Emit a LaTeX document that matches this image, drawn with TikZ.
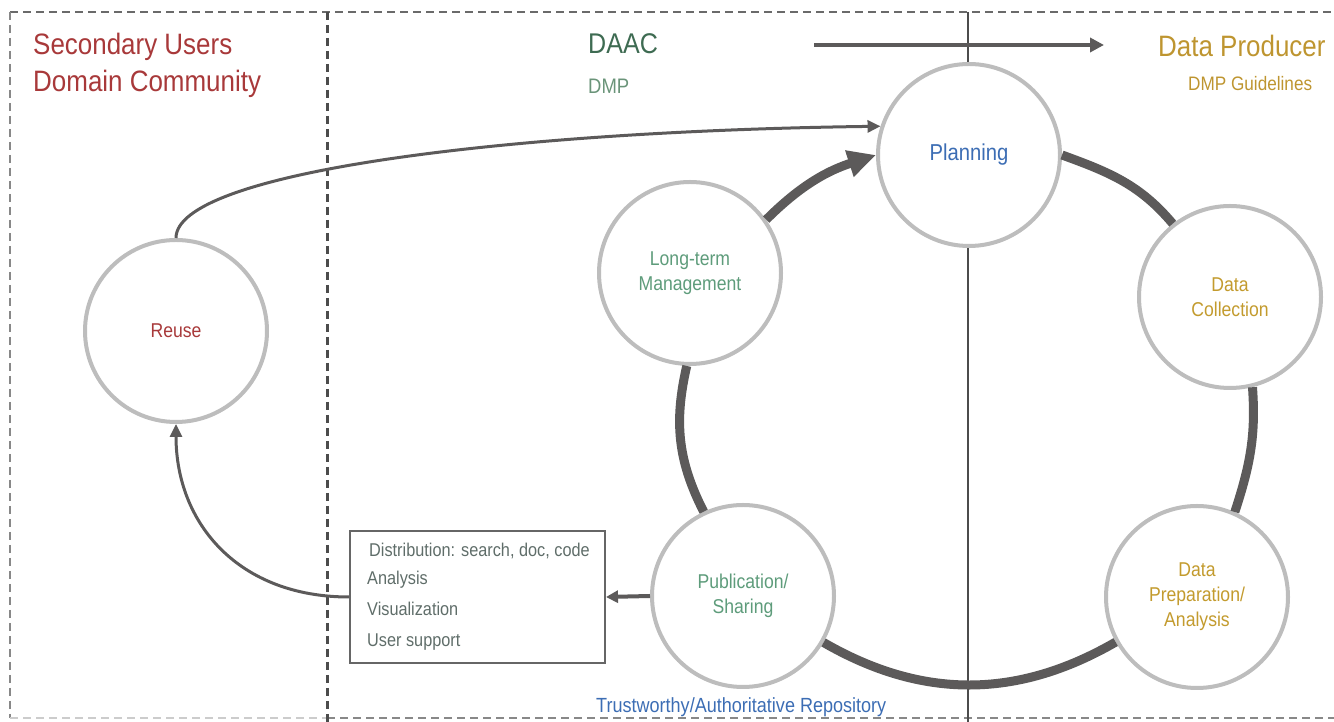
\documentclass[tikz,border=0pt]{standalone}
\usepackage{fontspec}
\setmainfont{Liberation Sans}[FakeStretch=0.88]
\usetikzlibrary{arrows.meta}
\definecolor{redc}{HTML}{A8393A}
\definecolor{daacg}{HTML}{3E6B52}
\definecolor{dmpg}{HTML}{6A9479}
\definecolor{nodeg}{HTML}{5E9C7B}
\definecolor{goldc}{HTML}{BE9530}
\definecolor{goldn}{HTML}{C39B2E}
\definecolor{bluec}{HTML}{3C6DB4}
\definecolor{boxt}{HTML}{5F6D69}
\definecolor{ring}{HTML}{BDBDBD}
\definecolor{arcc}{HTML}{5C5A5A}
\definecolor{dashc}{HTML}{6A6A6A}
\begin{document}
\begin{tikzpicture}[x=1pt,y=1pt,
  stage/.style={circle,draw=ring,line width=4pt,fill=white,minimum size=182pt,inner sep=0pt,align=center,font=\fontsize{20}{25}\selectfont},
  cyc/.style={draw=arcc,line width=9pt},
  thin arrow/.style={draw=arcc,line width=3pt,-{Triangle[length=13pt,width=12pt]}},
  lbl/.style={inner sep=0pt,anchor=base west},
  boxline/.style={lbl,text=boxt,font=\fontsize{18.5}{22}\selectfont},
  divider/.style={dashc,line width=2pt,dash pattern=on 8pt off 5pt}
]
\useasboundingbox (0,0) rectangle (1334,722);
% frame lines
\coordinate (tl) at (10,710);
\coordinate (tr) at (1334,710);
\coordinate (bl) at (10,4);
\coordinate (mt) at (327,710);
\coordinate (mb) at (327,0);
\coordinate (br) at (1334,4);
\coordinate (mbb) at (327,4);
\coordinate (vt) at (968,710);
\coordinate (vb) at (968,0);
\draw[divider] (tl) -- (tr);
\draw[divider,line width=1.5pt,dashc!80] (tl) -- (bl);
\draw[divider,line width=1.5pt,black!20] (bl) -- (mbb);
\draw[divider,line width=1.5pt,dashc!80] (mbb) -- (br);
\draw[divider,line width=3pt,black!70] (mt) -- (mb);
\draw[black!70,line width=1.3pt] (vt) -- (vb);

% headings
\node[lbl,text=redc,font=\fontsize{29.5}{33}\selectfont] (h1) at (33,667) {Secondary Users};
\node[lbl,text=redc,font=\fontsize{29.5}{33}\selectfont] (h2) at (33,630) {Domain Community};
\node[lbl,text=daacg,font=\fontsize{28.5}{33}\selectfont] (daac) at (588,668) {DAAC};
\node[lbl,text=dmpg,font=\fontsize{21}{25}\selectfont] (dmp) at (588,628.5) {DMP};
\node[lbl,text=goldc,font=\fontsize{29.5}{33}\selectfont] (prod) at (1158,665) {Data Producer};
\node[lbl,text=goldc,font=\fontsize{19.5}{23}\selectfont] (guide) at (1188,631) {DMP Guidelines};
\node[lbl,text=bluec,font=\fontsize{20.5}{24}\selectfont] (repo) at (596,9) {Trustworthy/Authoritative Repository};

% top arrow
\coordinate (ta) at (814,677);
\coordinate (tb) at (1104,677);
\draw[draw=arcc,line width=4pt,-{Triangle[length=14pt,width=14pt]}] (ta) -- (tb);

% stages
\node[stage,text=bluec,font=\fontsize{23}{27}\selectfont] (plan) at (969,567) {Planning};
\node[stage,text=nodeg] (lt) at (690,449) {Long-term\\Management};
\node[stage,text=redc] (reuse) at (176,391) {Reuse};
\node[stage,text=goldn] (coll) at (1230,425) {Data\\Collection};
\node[stage,text=nodeg] (pub) at (743,126) {Publication/\\Sharing};
\node[stage,text=goldn] (prep) at (1197,125) {Data\\Preparation/\\Analysis};

% box
\node[draw=black!60,line width=2pt,minimum width=255pt,minimum height=132pt,inner sep=0pt] (box) at (477.5,125) {};
\node[boxline] (b1) at (369,165) {Distribution: search, doc, code};
\node[boxline] (b2) at (367,137) {Analysis};
\node[boxline] (b3) at (367,106) {Visualization};
\node[boxline] (b4) at (367,75) {User support};

% cycle
\draw[cyc] (plan.0) to[out=-20,in=130] (coll.128);
\draw[cyc] (coll.-76) to[out=-86,in=72] (prep.66);
\draw[cyc] (prep.209) to[out=210,in=-30] (pub.-30);
\draw[cyc] (pub.115) to[out=117,in=-103] (lt.-92);
\draw[cyc,-{Triangle[length=28pt,width=26pt]}] (lt.35) to[out=45,in=198] (plan.180);

% other connectors
\draw[thin arrow] (reuse.north) .. controls +(0,65) and +(-380,-5) .. (plan.162);
\draw[thin arrow] (box.west) .. controls +(-110,0) and +(0,-100) .. (reuse.south);
\draw[draw=arcc,line width=4pt,-{Triangle[length=12pt,width=12pt]}] (pub.west) -- (box.east);
\end{tikzpicture}
\end{document}
